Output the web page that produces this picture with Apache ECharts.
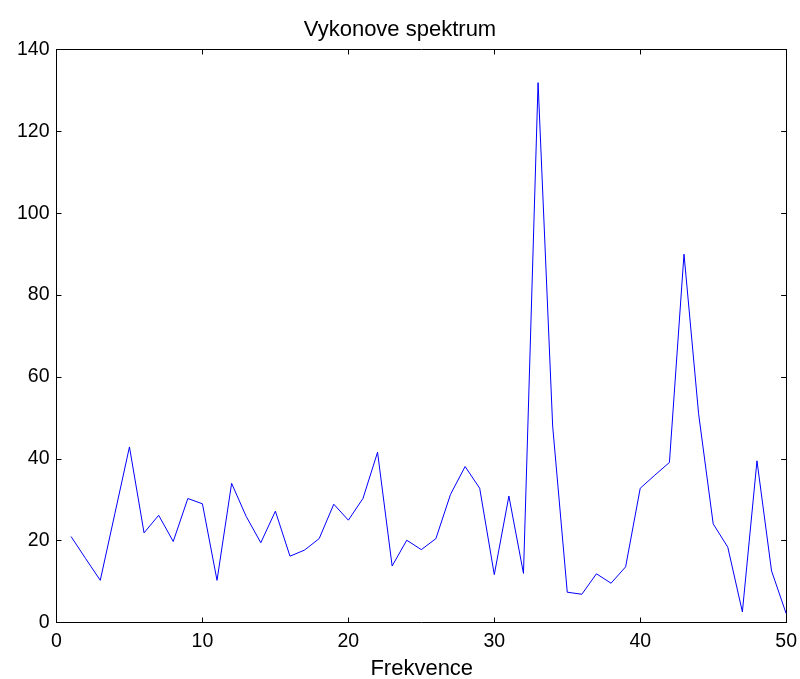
<!DOCTYPE html>
<html>
<head>
<meta charset="utf-8">
<title>Vykonove spektrum</title>
<script src="https://cdn.jsdelivr.net/npm/echarts@6/dist/echarts.min.js"></script>
<style>
  html, body { margin: 0; padding: 0; background: #ffffff; overflow: hidden; }
  #chart { position: absolute; left: 0; top: 0; width: 800px; height: 679px; }
</style>
</head>
<body>
<div id="chart"></div>
<script>
// Frequency bins and their power values
var frequencies = [1, 2, 3, 4, 5, 6, 7, 8, 9, 10,
  11, 12, 13, 14, 15, 16, 17, 18, 19, 20,
  21, 22, 23, 24, 25, 26, 27, 28, 29, 30,
  31, 32, 33, 34, 35, 36, 37, 38, 39, 40,
  41, 42, 43, 44, 45, 46, 47, 48, 49, 50];
var power = [21.0, 15.6, 10.3, 26.6, 42.9, 21.9, 26.2, 19.8, 30.3, 29.0,
  10.3, 34.0, 25.9, 19.5, 27.2, 16.2, 17.7, 20.5, 28.9, 25.0,
  30.3, 41.6, 13.8, 20.1, 17.8, 20.5, 31.3, 38.1, 32.8, 11.7,
  30.9, 12.0, 131.9, 48.0, 7.4, 6.9, 11.9, 9.6, 13.6, 32.8,
  36.0, 39.1, 90.0, 51.0, 24.1, 18.4, 2.6, 39.5, 12.6, 2.2];

var titleText = 'Vykonove spektrum';
var xName = 'Frekvence';
var xRange = { min: 0, max: 50, interval: 10 };
var yRange = { min: 0, max: 140, interval: 20 };

var points = frequencies.map(function (f, i) { return [f, power[i]]; });

var fontFamily = '"Liberation Sans", Arial, sans-serif';
var black = '#000000';

// plot box (MATLAB-style closed axes)
var gridBox = { left: 56.5, right: 13, top: 49.5, bottom: 56.5 };
var W = 800, H = 679;

function boxAxis(base, extra) {
  var o = {
    type: 'value',
    min: base.min,
    max: base.max,
    interval: base.interval,
    splitLine: { show: false },
    axisLine: { show: true, onZero: false, lineStyle: { color: black, width: 1 } },
    axisTick: { show: true, inside: true, length: 5, lineStyle: { color: black, width: 1 } }
  };
  for (var k in extra) o[k] = extra[k];
  return o;
}

var chart = echarts.init(document.getElementById('chart'), null, { renderer: 'canvas', width: W, height: H });
chart.setOption({
  animation: false,
  backgroundColor: '#ffffff',
  title: {
    text: titleText,
    left: 'center',
    top: 14,
    textStyle: { fontFamily: fontFamily, fontSize: 22, fontWeight: 'normal', color: black, lineHeight: 22 }
  },
  grid: { left: gridBox.left, right: gridBox.right, top: gridBox.top, bottom: gridBox.bottom, containLabel: false },
  xAxis: [
    boxAxis(xRange, {
      position: 'bottom',
      axisLabel: { show: true, margin: 9, fontFamily: fontFamily, fontSize: 19.5, color: black, lineHeight: 19.5 }
    }),
    boxAxis(xRange, { position: 'top', axisLabel: { show: false } })
  ],
  yAxis: [
    boxAxis(yRange, {
      position: 'left',
      axisLabel: { show: true, margin: 7, fontFamily: fontFamily, fontSize: 19.5, color: black }
    }),
    boxAxis(yRange, { position: 'right', axisLabel: { show: false } })
  ],
  // x-axis caption, centred under the plot box
  graphic: [{
    type: 'text',
    x: gridBox.left + (W - gridBox.left - gridBox.right) / 2,
    y: 669,
    style: {
      text: xName,
      font: '22px ' + fontFamily,
      fill: black,
      textAlign: 'center',
      textVerticalAlign: 'middle'
    }
  }],
  series: [{
    type: 'line',
    xAxisIndex: 0,
    yAxisIndex: 0,
    data: points,
    showSymbol: false,
    symbol: 'none',
    lineStyle: { color: '#0000ff', width: 1 },
    itemStyle: { color: '#0000ff' }
  }]
});
</script>
</body>
</html>
